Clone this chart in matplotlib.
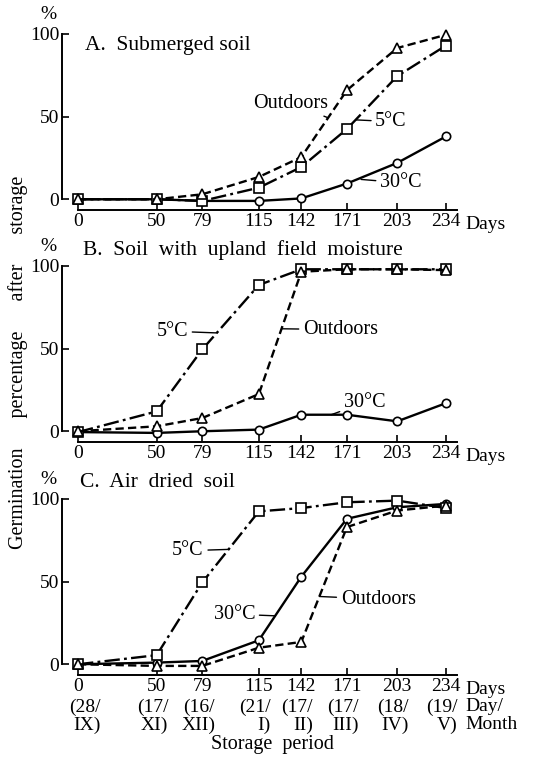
import matplotlib
matplotlib.use("Agg")
import matplotlib.pyplot as plt

plt.rcParams['font.family'] = ['Liberation Serif', 'DejaVu Serif']
plt.rcParams['font.size'] = 14

# storage period (days) and the date of each sampling
days = [0, 50, 79, 115, 142, 171, 203, 234]
dates = ["(28/\nIX)", "(17/\nXI)", "(16/\nXII)", "(21/\nI)", "(17/\nII)",
         "(17/\nIII)", "(18/\nIV)", "(19/\nV)"]

# A. submerged soil
a_outdoors = [0, 0, 3, 13.5, 25.5, 66, 91.5, 99.5]
a_5c = [0, 0, -1, 7, 19.5, 42.5, 74.5, 93]
a_30c = [0, 0, -1, -1, 0.5, 9.5, 22, 38]

# B. soil with upland field moisture
b_outdoors = [0, 3, 8, 22.5, 96.5, 98, 98, 97.5]
b_5c = [-0.5, 12, 49.5, 88.5, 98, 98, 98, 98]
b_30c = [-0.5, -1, 0, 1, 10, 10, 6, 17]

# C. air dried soil
c_outdoors = [0, -1, -1, 10, 13.5, 83, 93, 96]
c_5c = [0, 5.5, 49.5, 92.5, 94.5, 98, 99, 94.5]
c_30c = [0, 1, 2, 14.5, 53, 88, 95, 97]

titles = ["A.  Submerged soil", "B.  Soil  with  upland  field  moisture",
          "C.  Air  dried  soil"]

DASH = (0, (3.5, 1.8))
DASHDOT = (0, (6.5, 1.8, 1.2, 1.8))
FS = 14.5

fig = plt.figure(figsize=(5.48, 7.6), dpi=100)

W, H = 548.0, 760.0
xlo, xhi = -10.2, 241
# pixel row of the x axis for each panel, panels are 180px high
rows = [210, 442, 675]


def make_ax(xrow):
    ax = fig.add_axes([62 / W, 1 - xrow / H, 395 / W, 180 / H])
    ax.set_xlim(xlo, xhi)
    ax.set_ylim(-6.5, 102.4)
    for s in ["top", "right"]:
        ax.spines[s].set_visible(False)
    ax.spines["left"].set_bounds(0, 100)
    ax.spines["bottom"].set_bounds(0, xhi)
    ax.spines["left"].set_linewidth(1.4)
    ax.spines["bottom"].set_linewidth(1.4)
    ax.set_xticks(days)
    ax.set_yticks([0, 50, 100])
    ax.tick_params(direction="in", length=5, width=1.2, pad=2, labelsize=14)
    ax.patch.set_alpha(0)
    ax.annotate("%", xy=(0, 100), xycoords=("axes fraction", "data"),
                xytext=(-10, 8), textcoords="offset points",
                ha="center", va="bottom", fontsize=14)
    return ax


def curves(ax, outd, c5, c30):
    kw = dict(color="black", lw=1.7, ms=7, mfc="white", mec="black",
              mew=1.2, clip_on=False)
    ax.plot(days, c30, marker="o", ls="-", **dict(kw, ms=6))
    ax.plot(days, c5, marker="s", ls=DASHDOT, **kw)
    ax.plot(days, outd, marker="^", ls=DASH, **kw)


def label(ax, txt, xy, xytext, ha="center"):
    ax.annotate(txt, xy=xy, xytext=xytext, ha=ha, va="center", fontsize=FS,
                arrowprops=dict(arrowstyle="-", lw=1.0, color="black",
                                shrinkA=1, shrinkB=0))


def days_label(ax, txt):
    ax.annotate(txt, xy=(1, 0), xycoords="axes fraction", xytext=(6, -4),
                textcoords="offset points", ha="left", va="top",
                fontsize=14, linespacing=1.05)


# panel A
ax = make_ax(rows[0])
curves(ax, a_outdoors, a_5c, a_30c)
ax.text(4.5, 93, titles[0], ha="left", va="center", fontsize=15.5)
label(ax, "Outdoors", (158.5, 49.5), (135, 58))
label(ax, "5°C", (177, 48), (189, 47), ha="left")
label(ax, "30°C", (180, 12), (192, 10), ha="left")
days_label(ax, "Days")

# panel B
ax = make_ax(rows[1])
curves(ax, b_outdoors, b_5c, b_30c)
ax.text(3, 109.6, titles[1], ha="left", va="center", fontsize=15.5)
label(ax, "5°C", (88, 59.5), (70, 60.5), ha="right")
label(ax, "Outdoors", (129.5, 62), (143, 61.5), ha="left")
label(ax, "30°C", (161, 10), (169, 17.4), ha="left")
days_label(ax, "Days")

# panel C
ax = make_ax(rows[2])
curves(ax, c_outdoors, c_5c, c_30c)
ax.text(1, 109.7, titles[2], ha="left", va="center", fontsize=15.5)
label(ax, "5°C", (96, 69.5), (80, 68.7), ha="right")
label(ax, "30°C", (125.4, 29.3), (112.7, 30.3), ha="right")
label(ax, "Outdoors", (153.5, 41), (167, 39.4), ha="left")
days_label(ax, "Days\nDay/\nMonth")
for d, s in zip(days, dates):
    dx = 5 if d == 0 else -3
    ax.annotate(s, xy=(d, 0), xycoords=("data", "axes fraction"),
                xytext=(dx, -17), textcoords="offset points", ha="center",
                va="top", multialignment="right", fontsize=14,
                linespacing=1.05)

fig.text(18 / W, 1 - 362 / H,
         "Germination      percentage      after      storage",
         rotation=90, ha="center", va="center", fontsize=FS)
fig.text(272 / W, 1 - 745 / H, "Storage  period", ha="center", va="center",
         fontsize=FS)

fig.savefig("out.png", dpi=100)
